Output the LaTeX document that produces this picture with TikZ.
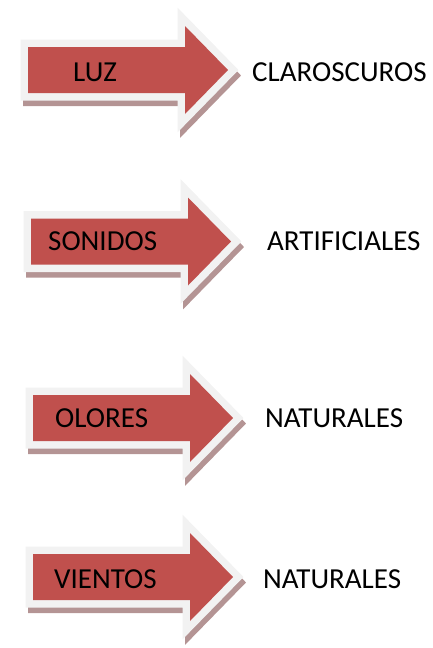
\documentclass[tikz,border=0pt]{standalone}
\usepackage{fontspec}
\setmainfont{Carlito}
\definecolor{flecharoja}{HTML}{C0504D}
\definecolor{flechaborde}{HTML}{F2F2F2}
\definecolor{flechasombra}{RGB}{180,148,148}

\begin{document}
\begin{tikzpicture}[x=1pt,y=-1pt,
  rotulo/.style={anchor=base west,inner sep=0pt,font=\fontsize{29}{34}\selectfont},
  contorno/.style={line width=15pt,line join=miter}]
  \useasboundingbox (0,0) rectangle (432,648);
  % One block arrow per row: left end, centre line, name, text and its x,
  % the word on the right and its x, and the baseline of both texts.
  \foreach \xl/\cy/\nm/\lab/\lx/\res/\rx/\bl in {%
      28/70/luz/LUZ/73/CLAROSCUROS/252/81,
      31/241.5/sonidos/SONIDOS/48/ARTIFICIALES/267/250.5,
      33/418/olores/OLORES/55/NATURALES/265/427,
      33/577/vientos/VIENTOS/54/NATURALES/263/588}{
    % Shadow: the outlined arrow pushed down and to the right.
    \draw[contorno,flechasombra,fill=flechasombra,shift={(2.5,5.5)}]
      (\xl,\cy-23) -- (\xl+157,\cy-23) -- (\xl+157,\cy-44) -- (\xl+200,\cy)
      -- (\xl+157,\cy+44) -- (\xl+157,\cy+23) -- (\xl,\cy+23) -- cycle;
    % Light rim.
    \draw[contorno,flechaborde,fill=flechaborde]
      (\xl,\cy-23) -- (\xl+157,\cy-23) -- (\xl+157,\cy-44) -- (\xl+200,\cy)
      -- (\xl+157,\cy+44) -- (\xl+157,\cy+23) -- (\xl,\cy+23) -- cycle;
    % Red body.
    \fill[flecharoja]
      (\xl,\cy-23) -- (\xl+157,\cy-23) -- (\xl+157,\cy-44) -- (\xl+200,\cy)
      -- (\xl+157,\cy+44) -- (\xl+157,\cy+23) -- (\xl,\cy+23) -- cycle;
    % Texts.
    \node[rotulo] (\nm) at (\lx,\bl) {\lab};
    \node[rotulo] (\nm-res) at (\rx,\bl) {\res};
  }
\end{tikzpicture}
\end{document}
